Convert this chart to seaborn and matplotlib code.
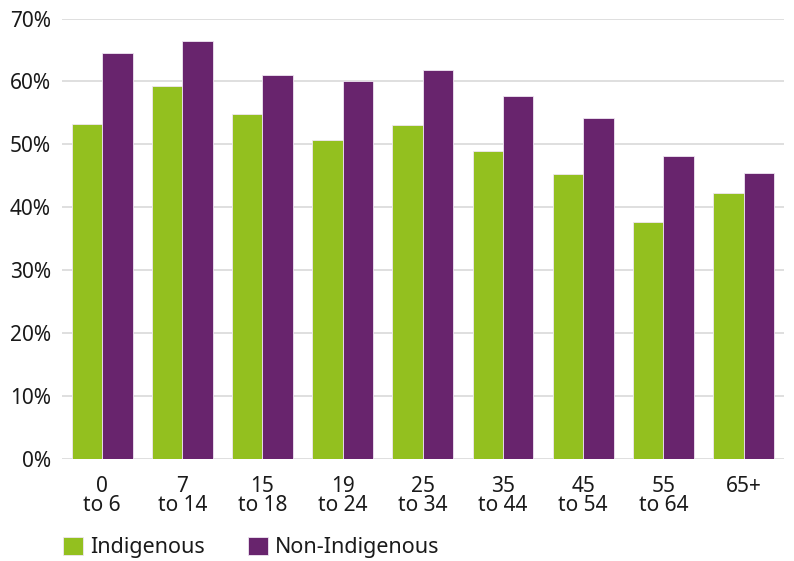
import matplotlib
matplotlib.use("Agg")
import matplotlib.pyplot as plt
from matplotlib.ticker import FuncFormatter, MultipleLocator
import seaborn as sns
import pandas as pd

age_groups = ["0\nto 6", "7\nto 14", "15\nto 18", "19\nto 24", "25\nto 34",
              "35\nto 44", "45\nto 54", "55\nto 64", "65+"]
indigenous = [53.2, 59.3, 54.8, 50.7, 53.0, 49.0, 45.3, 37.6, 42.2]
non_indigenous = [64.5, 66.5, 61.1, 60.0, 61.8, 57.7, 54.2, 48.1, 45.5]
series = ["Indigenous", "Non-Indigenous"]
colors = ["#93C01F", "#68246D"]

df = pd.DataFrame({
    "Age": age_groups * 2,
    "Group": [series[0]] * len(age_groups) + [series[1]] * len(age_groups),
    "Share": [v / 100 for v in indigenous + non_indigenous],
})

sns.set_style("white")
plt.rcParams["font.family"] = ["Noto Sans", "DejaVu Sans"]

fig = plt.figure(figsize=(7.94, 5.61), dpi=100)
ax = fig.add_axes([0.078, 0.182, 0.909, 0.785])
sns.barplot(data=df, x="Age", y="Share", hue="Group", palette=colors, width=0.76,
            saturation=1, edgecolor="#efe6f2", linewidth=0.6, ax=ax, legend=True)

ax.set_ylim(0, 0.70)
ax.set_xlim(-0.5, len(age_groups) - 0.5)
ax.yaxis.set_major_locator(MultipleLocator(0.1))
ax.yaxis.set_major_formatter(FuncFormatter(lambda v, p: "%d%%" % round(v * 100)))
ax.grid(axis="y", color="#d9d9d9", linewidth=1.2)
ax.set_axisbelow(True)
for s in ax.spines.values():
    s.set_visible(False)
ax.tick_params(axis="both", length=0, labelsize=15, colors="#1a1a1a")
ax.tick_params(axis="y", pad=8)
ax.tick_params(axis="x", pad=12)
for lab in ax.get_xticklabels():
    lab.set_linespacing(0.9)
ax.set_xlabel("")
ax.set_ylabel("")

handles, labels = ax.get_legend_handles_labels()
ax.get_legend().remove()
fig.legend(handles, labels, loc="lower left", bbox_to_anchor=(0.055, -0.03), ncol=2,
           frameon=False, fontsize=15.5, handlelength=0.95, handleheight=0.95,
           handletextpad=0.3, columnspacing=2.0, labelcolor="#1a1a1a")

fig.savefig("out.png", dpi=100)
